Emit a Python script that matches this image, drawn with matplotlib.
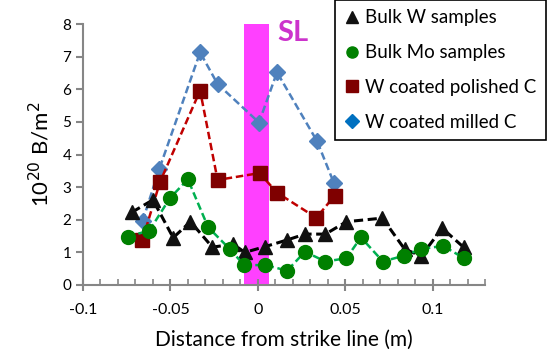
import matplotlib
matplotlib.use("Agg")
import matplotlib.pyplot as plt
from matplotlib.lines import Line2D
from matplotlib.ticker import MultipleLocator, FixedLocator

plt.rcParams['font.family'] = ['Lato', 'DejaVu Sans']

# Bulk W samples
w_x = [-0.072, -0.060, -0.0484, -0.0385, -0.026, -0.014, -0.0074, 0.0044, 0.0168,
       0.027, 0.0387, 0.0507, 0.0713, 0.084, 0.0935, 0.1055, 0.1177]
w_y = [2.23, 2.61, 1.45, 1.94, 1.16, 1.25, 1.00, 1.18, 1.38,
       1.56, 1.56, 1.94, 2.05, 1.10, 0.89, 1.74, 1.16]

# Bulk Mo samples
mo_x = [-0.0745, -0.062, -0.0503, -0.040, -0.0284, -0.016, -0.0078, 0.0044, 0.0168,
        0.027, 0.0387, 0.0507, 0.059, 0.0716, 0.0836, 0.0935, 0.106, 0.118]
mo_y = [1.48, 1.67, 2.66, 3.24, 1.77, 1.10, 0.61, 0.61, 0.44,
        1.02, 0.72, 0.82, 1.46, 0.72, 0.90, 1.10, 1.20, 0.82]

# W coated polished C
pol_x = [-0.066, -0.056, -0.033, -0.023, 0.001, 0.011, 0.0335, 0.044]
pol_y = [1.38, 3.15, 5.96, 3.22, 3.43, 2.83, 2.06, 2.74]

# W coated milled C
mil_x = [-0.0659, -0.0564, -0.033, -0.023, 0.0007, 0.011, 0.034, 0.0436]
mil_y = [1.96, 3.55, 7.13, 6.16, 4.98, 6.52, 4.40, 3.12]

labels = ["Bulk W samples", "Bulk Mo samples", "W coated polished C", "W coated milled C"]
x_ticks = [-0.1, -0.05, 0, 0.05, 0.1]
x_tick_labels = ["-0.1", "-0.05", "0", "0.05", "0.1"]

fig = plt.figure(figsize=(5.5, 3.6), dpi=100)
ax = fig.add_axes([83/550, 1-285/360, (485-83)/550, (285-24)/360])

ax.axvspan(-0.0078, 0.0065, color='#ff40ff', zorder=1, lw=0)
ax.text(0.011, 7.72, "SL", color='#cc33cc', fontsize=21, fontweight='bold',
        ha='left', va='center', zorder=2)

dash = (0, (3, 1.5))
ax.plot(mil_x, mil_y, ls=dash, color='#4f81bd', lw=1.8, marker='D', ms=8.5,
        mfc='#4f81bd', mec='#4f81bd', zorder=3)
ax.plot(pol_x, pol_y, ls=dash, color='#c00000', lw=1.8, marker='s', ms=10,
        mfc='#7f0000', mec='#7f0000', zorder=4)
ax.plot(w_x, w_y, ls=dash, color='#000000', lw=2.2, marker='^', ms=10,
        mfc='#111111', mec='#111111', zorder=5)
ax.plot(mo_x, mo_y, ls=dash, color='#00b050', lw=1.8, marker='o', ms=10,
        mfc='#008000', mec='#008000', zorder=6)

ax.set_xlim(-0.1, 0.13)
ax.set_ylim(0, 8)
ax.xaxis.set_major_locator(FixedLocator(x_ticks))
ax.set_xticklabels(x_tick_labels)
ax.xaxis.set_minor_locator(MultipleLocator(0.01))
ax.yaxis.set_major_locator(MultipleLocator(1))

for s in ['top', 'right']:
    ax.spines[s].set_visible(False)
for s in ['left', 'bottom']:
    ax.spines[s].set_color('#868686')
    ax.spines[s].set_linewidth(1.5)
ax.tick_params(axis='x', which='major', direction='inout', length=8, width=1.5,
               color='#868686', labelsize=11.5, pad=9)
ax.tick_params(axis='x', which='minor', direction='in', length=4, width=1.2,
               color='#868686')
ax.tick_params(axis='y', which='major', direction='out', length=5, width=1.5,
               color='#868686', labelsize=11)

ax.set_xlabel("Distance from strike line (m)", fontsize=15, labelpad=9)
ax.set_ylabel("10$^{20}$ B/m$^2$", fontsize=16, labelpad=7)

handles = [
    Line2D([], [], ls='none', marker='^', ms=8, mfc='#111111', mec='#111111'),
    Line2D([], [], ls='none', marker='o', ms=8, mfc='#008000', mec='#008000'),
    Line2D([], [], ls='none', marker='s', ms=8, mfc='#7f0000', mec='#7f0000'),
    Line2D([], [], ls='none', marker='D', ms=7, mfc='#0070c0', mec='#0070c0'),
]
leg = fig.legend(handles, labels, loc='upper left', bbox_to_anchor=(335/550, 1.0),
                 fontsize=13.5, frameon=True, fancybox=False, framealpha=1,
                 edgecolor='black', handlelength=0.8, handletextpad=0.3,
                 labelspacing=0.95, borderpad=0.5, borderaxespad=0)
leg.get_frame().set_linewidth(1.2)

fig.savefig("out.png", dpi=100)
